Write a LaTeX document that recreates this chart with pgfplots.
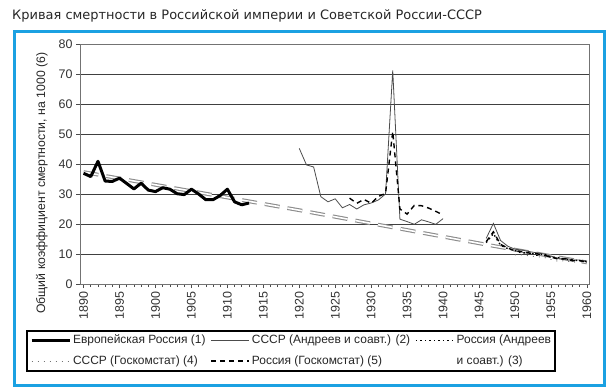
\documentclass[border=0pt]{standalone}
\usepackage{pgfplots}
\pgfplotsset{compat=1.18}
\usepackage{fontspec}
\setmainfont{Liberation Sans}
\newfontfamily\titlefont{DejaVu Sans}
\definecolor{frameblue}{RGB}{27,161,226}
\begin{document}
\begin{tikzpicture}
\useasboundingbox (0,0) rectangle (611bp,390bp);
\draw[frameblue, line width=3bp] (14bp,4bp) rectangle (604.5bp,358bp);
\node[anchor=base west, inner sep=0pt, font=\titlefont\fontsize{13}{15}\selectfont, text=black!85] at (12bp,370bp) {Кривая смертности в Российской империи и Советской России-СССР};
\begin{axis}[
  at={(80bp,106bp)}, anchor=south west,
  scale only axis, width=509bp, height=240bp,
  xmin=1889.5, xmax=1960.3, ymin=0, ymax=80,
  xtick={1890,1895,...,1960}, minor x tick num=4,
  ytick={0,10,...,80},
  tick pos=left, tick align=outside,
  major tick length=4bp, minor tick length=3bp,
  every tick/.style={black!70, line width=0.6bp},
  ymajorgrids, major grid style={black!75, line width=0.8bp},
  axis line style={black!55, line width=0.8bp},
  unbounded coords=jump,
  /pgf/number format/assume math mode=true,
  /pgf/number format/1000 sep={},
  tick label style={font=\fontsize{12.5}{14}\selectfont, text=black!80},
  xticklabel style={rotate=90, anchor=east},
  ylabel={Общий коэффициент смертности, на 1000 (6)},
  ylabel style={font=\fontsize{12.3}{14}\selectfont, text=black!85, at={(axis description cs:-0.075,0.42)}, anchor=center},
  legend columns=3, legend cell align=left,
  legend image code/.code={\draw[#1] (0bp,0bp) -- (38bp,0bp);},
  legend style={at={(axis description cs:-0.106,-0.19)}, anchor=north west,
    draw=black, line width=2bp, font=\fontsize{12}{14}\selectfont, text=black!85,
    inner xsep=3bp, inner ysep=3bp, row sep=6.5bp,
    nodes={text height=9bp, text depth=3bp, inner sep=1bp},
    /tikz/every even column/.append style={column sep=4bp},
    /tikz/every odd column/.append style={column sep=1bp}},
]
% trend line
\addplot[gray!90, line width=1.1bp, double=white, double distance=1.6bp, dash pattern=on 15bp off 8bp, forget plot]
  coordinates {(1890,37.3) (1920,24.6) (1947,12.7) (1960,7.2)};
% (1) European Russia
\addplot[black, line width=3bp, line join=round] coordinates {
(1890,36.9) (1891,35.8) (1892,40.9) (1893,34.3) (1894,34.2) (1895,35.3)
(1896,33.5) (1897,31.7) (1898,33.6) (1899,31.3) (1900,30.8) (1901,32.1)
(1902,31.6) (1903,30.1) (1904,29.8) (1905,31.6) (1906,30.0) (1907,28.1)
(1908,28.1) (1909,29.5) (1910,31.6) (1911,27.4) (1912,26.4) (1913,27.0)};
\addlegendentry{Европейская Россия (1)}
% (2) USSR Andreev
\addplot[black!70, line width=0.8bp] coordinates {
(1920,45.2) (1921,39.7) (1922,39.0) (1923,29.1) (1924,27.4) (1925,28.4)
(1926,25.4) (1927,26.5) (1928,25.0) (1929,26.4) (1930,27.0) (1931,28.0)
(1932,30.0) (1933,71.2) (1934,21.6) (1935,20.8) (1936,19.9) (1937,21.4)
(1938,20.7) (1939,19.9) (1940,21.8) (1941,nan)
(1946,15.2) (1947,20.2) (1948,14.5) (1949,12.6) (1950,11.6) (1951,11.3)
(1952,10.8) (1953,10.4) (1954,10.0) (1955,9.3) (1956,8.6) (1957,8.6)
(1958,8.0) (1959,8.0) (1960,7.5)};
\addlegendentry{СССР (Андреев и соавт.) (2)}
% (3) Russia Andreev
\addplot[black, line width=1.4bp, dash pattern=on 1.5bp off 3bp] coordinates {
(1946,13.8) (1947,16.8) (1948,12.9) (1949,11.8) (1950,11.2) (1951,10.3)
(1952,10.6) (1953,9.6) (1954,10.0) (1955,8.9) (1956,8.8) (1957,8.2)
(1958,8.1) (1959,7.7) (1960,7.5)};
\addlegendentry{\vtop{\baselineskip=20.5bp\hbox{Россия (Андреев}\hbox{и соавт.) (3)}}}
% (4) USSR Goskomstat
\addplot[black!55, line width=0.9bp, dash pattern=on 1bp off 5bp] coordinates {
(1950,9.7) (1951,9.7) (1952,9.4) (1953,9.1) (1954,8.9) (1955,8.2)
(1956,7.6) (1957,7.8) (1958,7.2) (1959,7.6) (1960,7.1)};
\addlegendentry{СССР (Госкомстат) (4)}
% (5) Russia Goskomstat
\addplot[black, line width=1.4bp, dash pattern=on 5bp off 4bp] coordinates {
(1927,28.6) (1928,26.9) (1929,28.2) (1930,26.9) (1931,29.2) (1932,30.2)
(1933,50.8) (1934,25.0) (1935,23.3) (1936,26.2) (1937,26.1) (1938,25.3)
(1939,24.2) (1940,23.0) (1941,nan)
(1946,14.1) (1947,17.4) (1948,13.2) (1949,12.0) (1950,11.0) (1951,10.9)
(1952,10.3) (1953,10.1) (1954,9.6) (1955,9.0) (1956,8.3) (1957,8.4)
(1958,7.8) (1959,7.8) (1960,7.3)};
\addlegendentry{Россия (Госкомстат) (5)}
\end{axis}
\end{tikzpicture}
\end{document}
